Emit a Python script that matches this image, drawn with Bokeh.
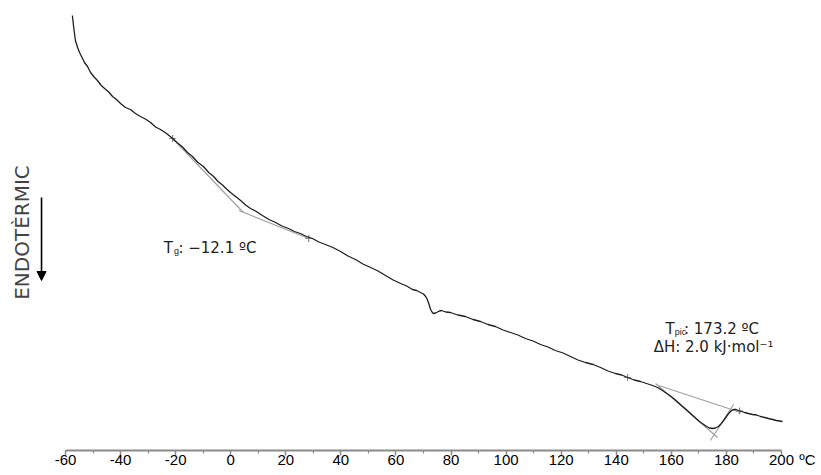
from math import pi
from bokeh.plotting import figure
from bokeh.models import Range1d, FixedTicker, Label, Arrow, NormalHead
from bokeh.embed import file_html
from bokeh.resources import INLINE

# ---- data (temperature in ºC, heat flow in arbitrary units, endo down) ----
temp = [
    -57.5, -57.1, -56.4, -55.6, -54.9, -53.1, -52.0, -50.9, -49.6, -48.4,
    -47.0, -45.8, -44.3, -42.9, -41.5, -40.0, -38.2, -36.4, -34.6, -32.8,
    -31.0, -29.1, -27.3, -25.5, -23.3, -21.1, -19.3, -17.5, -15.7, -13.9,
    -11.9, -9.9, -8.0, -6.2, -4.6, -3.0, -1.5, -0.1, 1.8, 3.6,
    5.4, 7.2, 9.3, 11.5, 13.9, 16.3, 18.6, 21.0, 23.1, 25.3,
    27.5, 29.7, 32.0, 34.4, 37.1, 39.9, 42.6, 45.3, 48.0, 50.8,
    53.5, 56.2, 59.0, 61.7, 63.9, 66.0, 67.5, 68.9, 70.0, 70.8,
    71.3, 71.8, 72.2, 72.6, 73.1, 73.6, 74.4, 75.1, 75.8, 76.5,
    78.1, 79.8, 82.5, 85.2, 88.0, 90.7, 93.4, 96.1, 98.9, 101.6,
    104.3, 107.0, 109.8, 112.5, 115.2, 117.9, 120.7, 123.4, 126.1, 128.8,
    131.6, 134.3, 137.0, 139.7, 142.0, 144.1, 146.5, 148.8, 151.0, 153.2,
    155.0, 156.8, 158.6, 160.4, 162.1, 163.7, 165.4, 167.0, 168.6, 170.2,
    171.5, 172.8, 173.9, 175.0, 176.0, 177.1, 178.0, 179.0, 179.9, 180.8,
    181.7, 182.6, 183.5, 184.4, 185.5, 186.6, 188.0, 189.5, 191.0, 192.4,
    193.9, 195.3, 196.8, 198.2, 200.4,
]
heat = [
    8.70, 8.50, 8.20, 8.06, 7.96, 7.76, 7.68, 7.56, 7.47, 7.40,
    7.30, 7.24, 7.17, 7.08, 7.02, 6.94, 6.86, 6.82, 6.74, 6.68,
    6.63, 6.56, 6.47, 6.42, 6.34, 6.24, 6.15, 6.07, 5.96, 5.88,
    5.76, 5.68, 5.56, 5.48, 5.38, 5.31, 5.23, 5.16, 5.08, 5.00,
    4.91, 4.84, 4.78, 4.70, 4.62, 4.56, 4.49, 4.44, 4.38, 4.34,
    4.28, 4.24, 4.17, 4.12, 4.06, 3.98, 3.89, 3.82, 3.73, 3.66,
    3.59, 3.50, 3.41, 3.34, 3.29, 3.22, 3.20, 3.16, 3.13, 3.08,
    3.03, 2.96, 2.89, 2.82, 2.77, 2.74, 2.75, 2.77, 2.79, 2.80,
    2.77, 2.76, 2.71, 2.68, 2.62, 2.58, 2.52, 2.48, 2.41, 2.36,
    2.31, 2.24, 2.19, 2.12, 2.07, 2.00, 1.95, 1.88, 1.81, 1.76,
    1.72, 1.66, 1.59, 1.54, 1.51, 1.46, 1.41, 1.38, 1.34, 1.30,
    1.26, 1.20, 1.13, 1.06, 0.98, 0.90, 0.82, 0.74, 0.66, 0.58,
    0.53, 0.48, 0.45, 0.44, 0.45, 0.48, 0.53, 0.60, 0.67, 0.74,
    0.79, 0.82, 0.82, 0.80, 0.78, 0.76, 0.74, 0.72, 0.71, 0.68,
    0.66, 0.64, 0.62, 0.60, 0.58,
]

# glass transition construction (tangents)
tg_upper_x = [-21.1, 4.6]
tg_upper_y = [6.24, 4.76]
tg_lower_x = [3.0, 28.3]
tg_lower_y = [4.80, 4.24]

# melting peak construction
peak_base_x = [155.4, 185.2]
peak_base_y = [1.30, 0.76]
peak_left_x = [154.3, 176.8]
peak_left_y = [1.34, 0.26]
peak_right_x = [174.2, 182.6]
peak_right_y = [0.20, 0.92]

# limit markers
mark_x = [-21.1, 28.3, 144.1, 184.8]
mark_y = [6.24, 4.24, 1.46, 0.79]

tick_values = [-60, -40, -20, 0, 20, 40, 60, 80, 100, 120, 140, 160, 180, 200]
tick_labels = ["-60", "-40", "-20", "0", "20", "40", "60", "80", "100",
               "120", "140", "160", "180", "200"]
minor_values = [-50, -30, -10, 10, 30, 50, 70, 90, 110, 130, 150, 170, 190]
unit_label = "ºC"

# ---- figure ----
p = figure(frame_width=807, frame_height=450, output_backend="svg",
           toolbar_location=None,
           x_range=Range1d(-83.6, 209.45), y_range=Range1d(0, 9),
           y_axis_location=None, min_border=0, min_border_left=0,
           min_border_right=14, min_border_top=0, min_border_bottom=0)
p.outline_line_color = None
p.grid.grid_line_color = None
p.background_fill_color = "white"

GRAY = "#a0a0a0"
p.line(tg_upper_x, tg_upper_y, line_color=GRAY, line_width=1.2)
p.line(tg_lower_x, tg_lower_y, line_color=GRAY, line_width=1.2)
p.line(peak_base_x, peak_base_y, line_color=GRAY, line_width=1.3)
p.line(peak_left_x, peak_left_y, line_color=GRAY, line_width=1.2)
p.line(peak_right_x, peak_right_y, line_color=GRAY, line_width=1.2)
p.scatter(mark_x, mark_y, marker="cross", size=7, line_color="#888888", line_width=1.2)

p.line(temp, heat, line_color="#1e1e1e", line_width=1.3)

# ---- axis ----
ax = p.xaxis[0]
ax.ticker = FixedTicker(ticks=tick_values, minor_ticks=minor_values)
ax.major_label_overrides = {v: s for v, s in zip(tick_values, tick_labels)}
ax.bounds = (-60, 200)
ax.axis_line_color = "#8a8a8a"
ax.axis_line_width = 2
ax.major_tick_line_color = "#8a8a8a"
ax.major_tick_line_width = 1.5
ax.major_tick_in = 0
ax.major_tick_out = 5
ax.minor_tick_line_color = "#8a8a8a"
ax.minor_tick_line_width = 1.2
ax.minor_tick_in = 0
ax.minor_tick_out = 3
ax.major_label_text_font = "Liberation Sans"
ax.major_label_text_font_size = "15px"
ax.major_label_text_color = "#000000"
ax.major_label_standoff = -1
# unit shown at the right end of the tick-label row
ax.axis_label = unit_label
ax.axis_label_align = "end"
ax.axis_label_standoff = -17
ax.axis_label_text_font = "Liberation Sans"
ax.axis_label_text_font_size = "15px"
ax.axis_label_text_font_style = "normal"
ax.axis_label_text_color = "#000000"

# ---- endothermic indicator ----
p.add_layout(Label(x=-75.9, y=4.36, text="ENDOTÈRMIC", angle=pi / 2,
                   text_font="DejaVu Sans", text_font_size="20px",
                   text_color="#444444", text_align="center",
                   text_baseline="middle"))
p.add_layout(Arrow(end=NormalHead(size=9, fill_color="black", line_color="black"),
                   x_start=-68.7, y_start=5.06, x_end=-68.7, y_end=3.40,
                   line_width=1.6, line_color="black"))

# ---- annotations ----
FONT = "DejaVu Sans"
p.add_layout(Label(x=-24.3, y=4.06, text="T", text_font=FONT, text_font_size="15px",
                   text_color="#222222", text_baseline="alphabetic"))
p.add_layout(Label(x=-20.6, y=4.00, text="g", text_font="Liberation Sans",
                   text_font_size="9px", text_color="#222222",
                   text_baseline="alphabetic"))
p.add_layout(Label(x=-19.0, y=4.06, text=": −12.1 ºC", text_font=FONT,
                   text_font_size="15px", text_color="#222222",
                   text_baseline="alphabetic"))

p.add_layout(Label(x=157.9, y=2.44, text="T", text_font=FONT, text_font_size="15px",
                   text_color="#222222", text_baseline="alphabetic"))
p.add_layout(Label(x=161.2, y=2.38, text="pic", text_font="Liberation Sans",
                   text_font_size="9px", text_color="#222222",
                   text_baseline="alphabetic"))
p.add_layout(Label(x=164.6, y=2.44, text=": 173.2 ºC", text_font=FONT,
                   text_font_size="15px", text_color="#222222",
                   text_baseline="alphabetic"))
p.add_layout(Label(x=153.6, y=2.08, text="ΔH: 2.0 kJ·mol⁻¹", text_font=FONT,
                   text_font_size="15px", text_color="#222222",
                   text_baseline="alphabetic"))

open("out.html", "w").write(file_html(p, INLINE))
